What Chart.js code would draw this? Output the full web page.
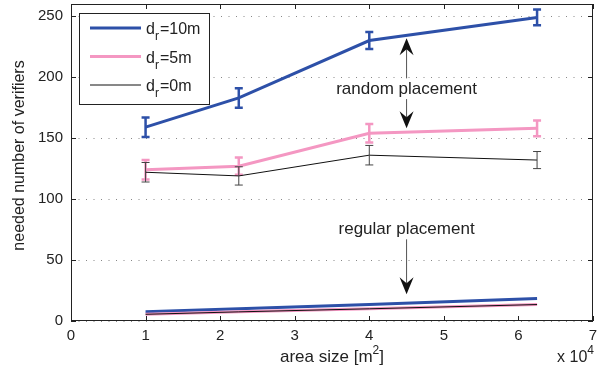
<!DOCTYPE html>
<html><head><meta charset="utf-8">
<script src="https://cdn.jsdelivr.net/npm/chart.js@4.4.0/dist/chart.umd.min.js"></script>
<style>html,body{margin:0;padding:0;background:#fff}</style>
</head><body>
<canvas id="c" width="605" height="375"></canvas>
<script>
// ---- data ----
const areaSizes = [1, 2.25, 4, 6.25];          // x 10^4 m^2
const xTicks = [0, 1, 2, 3, 4, 5, 6, 7];
const yTicks = [0, 50, 100, 150, 200, 250];
const random10 = [159, 183, 230, 249];
const random10Err = [8, 8, 7, 6.5];
const random5 = [124, 127, 154, 158];
const random5Err = [8, 7, 7.5, 6.5];
const random0 = [122, 119, 136, 132];
const random0Err = [8, 7.5, 8, 7];
const regular10 = [7.5, 10, 13.5, 18.5];
const regular5 = [5.5, 7.5, 10, 13.5];
const regular0 = [5.5, 7.5, 10, 13.5];
const seriesNames = ['10m', '5m', '0m'];

const BLUE = '#2d50a8', PINK = '#f497c2', BLACK = '#111';
const FONT = '"Liberation Sans", Arial, sans-serif';

function pts(ys) { return areaSizes.map((x, i) => ({ x: x, y: ys[i] })); }

const styles = [
  { color: BLUE, width: 3, order: 2 },
  { color: PINK, width: 3, order: 1 },
  { color: BLACK, width: 1, order: 0 }
];
const randomSets = [random10, random5, random0];
const randomErrs = [random10Err, random5Err, random0Err];
const regularSets = [regular10, regular5, regular0];

const datasets = [];
randomSets.forEach((ys, i) => datasets.push({
  label: 'dr=' + seriesNames[i] + ' random', data: pts(ys), errors: randomErrs[i],
  borderColor: styles[i].color, borderWidth: styles[i].width, order: styles[i].order,
  pointRadius: 0, tension: 0, fill: false
}));
regularSets.forEach((ys, i) => datasets.push({
  label: 'dr=' + seriesNames[i] + ' regular', data: pts(ys),
  borderColor: styles[i].color, borderWidth: styles[i].width, order: styles[i].order + 3,
  pointRadius: 0, tension: 0, fill: false
}));

// annotation anchors in data units
const annotations = [
  { text: 'random placement', x: 4.5, y: 190, shafts: [[199, 232], [182, 158]] },
  { text: 'regular placement', x: 4.5, y: 75, shafts: [[67, 22]] }
];

function arrow(ctx, x, y0, y1) {
  const d = y1 > y0 ? 1 : -1, L = 17, W = 7, notch = 6;
  ctx.save();
  ctx.strokeStyle = '#555'; ctx.lineWidth = 1;
  ctx.beginPath(); ctx.moveTo(x, y0); ctx.lineTo(x, y1 - d * (L - notch)); ctx.stroke();
  ctx.fillStyle = '#111';
  ctx.beginPath();
  ctx.moveTo(x, y1);
  ctx.lineTo(x - W, y1 - d * L);
  ctx.lineTo(x, y1 - d * (L - notch));
  ctx.lineTo(x + W, y1 - d * L);
  ctx.closePath(); ctx.fill();
  ctx.restore();
}

const decor = {
  id: 'decor',
  afterDatasetDraw(chart, args) {
    const ds = chart.data.datasets[args.index];
    if (!ds.errors) return;
    const ctx = chart.ctx, xs = chart.scales.x, ys = chart.scales.y;
    ctx.save();
    ctx.strokeStyle = ds.borderWidth > 1 ? ds.borderColor : '#444';
    ctx.lineWidth = ds.borderWidth > 1 ? 2.5 : 1;
    ds.data.forEach((p, i) => {
      const px = xs.getPixelForValue(p.x);
      const top = ys.getPixelForValue(p.y + ds.errors[i]);
      const bot = ys.getPixelForValue(p.y - ds.errors[i]);
      const cw = 4;
      ctx.beginPath();
      ctx.moveTo(px, top); ctx.lineTo(px, bot);
      ctx.moveTo(px - cw, top); ctx.lineTo(px + cw, top);
      ctx.moveTo(px - cw, bot); ctx.lineTo(px + cw, bot);
      ctx.stroke();
    });
    ctx.restore();
  },
  afterDraw(chart) {
    const ctx = chart.ctx, a = chart.chartArea, xs = chart.scales.x, ys = chart.scales.y;
    ctx.save();
    // box
    ctx.strokeStyle = '#222'; ctx.lineWidth = 1;
    ctx.strokeRect(Math.round(a.left) + 0.5, Math.round(a.top) + 0.5,
      Math.round(a.right - a.left) - 1, Math.round(a.bottom - a.top) - 1);
    // inner ticks
    ctx.beginPath();
    xTicks.forEach(v => {
      const px = Math.round(xs.getPixelForValue(v)) + 0.5;
      ctx.moveTo(px, a.bottom); ctx.lineTo(px, a.bottom - 5);
      ctx.moveTo(px, a.top); ctx.lineTo(px, a.top + 5);
    });
    yTicks.forEach(v => {
      const py = Math.round(ys.getPixelForValue(v)) + 0.5;
      ctx.moveTo(a.left, py); ctx.lineTo(a.left + 5, py);
      ctx.moveTo(a.right, py); ctx.lineTo(a.right - 5, py);
    });
    ctx.stroke();

    // annotations
    ctx.fillStyle = '#222';
    ctx.font = '17px ' + FONT;
    ctx.textAlign = 'center'; ctx.textBaseline = 'middle';
    annotations.forEach(an => {
      const px = xs.getPixelForValue(an.x);
      ctx.fillText(an.text, px, ys.getPixelForValue(an.y));
      an.shafts.forEach(s => arrow(ctx, px, ys.getPixelForValue(s[0]), ys.getPixelForValue(s[1])));
    });

    // legend
    const lx = a.left + 8, ly = a.top + 9, lw = 130, lh = 91;
    ctx.fillStyle = '#fff';
    ctx.fillRect(lx, ly, lw, lh);
    ctx.strokeStyle = '#222'; ctx.lineWidth = 1;
    ctx.strokeRect(Math.round(lx) + 0.5, Math.round(ly) + 0.5, lw, lh);
    seriesNames.forEach((name, i) => {
      const cy = ly + 15 + i * 28.5;
      ctx.strokeStyle = styles[i].color; ctx.lineWidth = styles[i].width;
      ctx.beginPath(); ctx.moveTo(lx + 11, cy); ctx.lineTo(lx + 62, cy); ctx.stroke();
      ctx.fillStyle = '#222'; ctx.textAlign = 'left'; ctx.textBaseline = 'alphabetic';
      let tx = lx + 67;
      ctx.font = '16px ' + FONT;
      ctx.fillText('d', tx, cy + 6); tx += ctx.measureText('d').width;
      ctx.font = '12px ' + FONT;
      ctx.fillText('r', tx, cy + 12); tx += ctx.measureText('r').width + 1;
      ctx.font = '16px ' + FONT;
      ctx.fillText('=' + name, tx, cy + 6);
    });

    // axis titles
    ctx.fillStyle = '#222';
    ctx.font = '16px ' + FONT;
    ctx.save();
    ctx.translate(20, (a.top + a.bottom) / 2 - 7);
    ctx.rotate(-Math.PI / 2);
    ctx.textAlign = 'center'; ctx.textBaseline = 'middle';
    ctx.fillText('needed number of verifiers', 0, 0);
    ctx.restore();

    ctx.textAlign = 'left'; ctx.textBaseline = 'alphabetic';
    const t1 = 'area size [m', t2 = '2', t3 = ']';
    ctx.font = '17px ' + FONT; const w1 = ctx.measureText(t1).width, w3 = ctx.measureText(t3).width;
    ctx.font = '12px ' + FONT; const w2 = ctx.measureText(t2).width;
    let sx = (a.left + a.right) / 2 - (w1 + w2 + w3) / 2;
    const by = a.bottom + 41;
    ctx.font = '17px ' + FONT; ctx.fillText(t1, sx, by); sx += w1;
    ctx.font = '12px ' + FONT; ctx.fillText(t2, sx, by - 8); sx += w2;
    ctx.font = '17px ' + FONT; ctx.fillText(t3, sx, by);

    // exponent
    ctx.font = '12px ' + FONT; const we = ctx.measureText('4').width;
    ctx.font = '16px ' + FONT; const wb = ctx.measureText('x 10').width;
    let ex = a.right - we - wb + 1;
    ctx.fillText('x 10', ex, by);
    ctx.font = '12px ' + FONT; ctx.fillText('4', ex + wb, by - 8);
    ctx.restore();
  }
};

new Chart(document.getElementById('c'), {
  type: 'line',
  data: { datasets: datasets },
  options: {
    responsive: false, animation: false, devicePixelRatio: 1,
    layout: { padding: { top: 4, right: 12, left: 0, bottom: 0 } },
    plugins: { legend: { display: false }, tooltip: { enabled: false } },
    scales: {
      x: {
        type: 'linear', min: 0, max: 7,
        afterBuildTicks: s => { s.ticks = xTicks.map(v => ({ value: v })); },
        afterFit: s => { s.height = 54; s.paddingLeft = 0; s.paddingRight = 0; },
        grid: { display: false, drawTicks: false },
        border: { display: false },
        ticks: { color: '#222', font: { family: FONT, size: 15 }, padding: 6, maxRotation: 0 }
      },
      y: {
        type: 'linear', min: 0, max: 260,
        afterBuildTicks: s => { s.ticks = yTicks.map(v => ({ value: v })); },
        afterFit: s => { s.width = 71; s.paddingTop = 0; s.paddingBottom = 0; },
        grid: { color: '#888', lineWidth: 1, drawTicks: false },
        border: { display: false, dash: [1, 6.5] },
        ticks: { color: '#222', font: { family: FONT, size: 15 }, padding: 8 }
      }
    }
  },
  plugins: [decor]
});
</script>
</body></html>
